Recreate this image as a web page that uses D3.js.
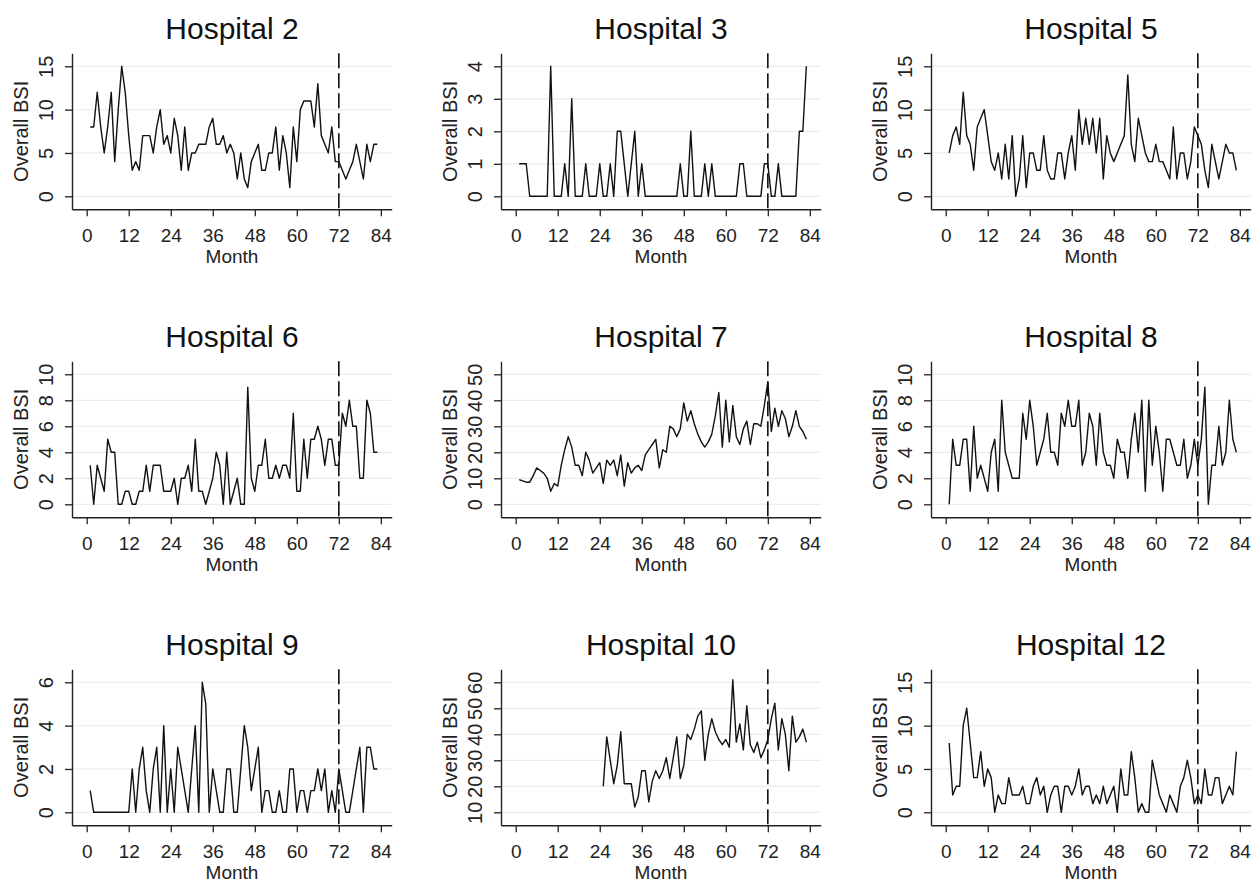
<!DOCTYPE html>
<html>
<head>
<meta charset="utf-8">
<script src="https://cdn.jsdelivr.net/npm/d3@7"></script>
<style>
  html, body { margin: 0; padding: 0; background: #fff; }
  svg { display: block; font-family: "Liberation Sans", Arial, sans-serif; }
</style>
</head>
<body>
<svg id="chart" width="1255" height="884"></svg>
<script>
// ---------------- data ----------------
const hospitalNames = ["Hospital 2", "Hospital 3", "Hospital 5", "Hospital 6", "Hospital 7", "Hospital 8", "Hospital 9", "Hospital 10", "Hospital 12"];
const monthTicks = [0, 12, 24, 36, 48, 60, 72, 84];
const interventionMonth = 72;

const hosp2 = [8,8,12,8,5,8,12,4,10,15, 12,7,3,4,3,7,7,7,5,8, 10,6,7,5,9,7,3,8,3,5, 5,6,6,6,8,9,6,6,7,5, 6,5,2,5,2,1,4,5,6,3, 3,5,5,8,3,7,5,1,8,4, 10,11,11,11,8,13,7,6,5,8, 4,4,3,2,3,4,6,4,2,6, 4,6,6];
const hosp3 = [1,1,1,0,0,0,0,0,0,4, 0,0,0,1,0,3,0,0,0,1, 0,0,0,1,0,0,1,0,2,2, 1,0,1,2,0,1,0,0,0,0, 0,0,0,0,0,0,1,0,0,2, 0,0,0,1,0,1,0,0,0,0, 0,0,0,1,1,0,0,0,0,0, 1,1,0,0,1,0,0,0,0,0, 2,2,4];
const hosp5 = [5,7,8,6,12,7,6,3,8,9, 10,7,4,3,5,2,6,2,7,0, 2,7,1,5,5,3,3,7,3,2, 2,5,5,2,5,7,3,10,6,9, 6,9,5,9,2,7,5,4,5,6, 7,14,6,4,9,7,5,4,4,6, 4,4,3,2,8,2,5,5,2,4, 8,7,6,3,1,6,4,2,4,6, 5,5,3];
const hosp6 = [3,0,3,2,1,5,4,4,0,0, 1,1,0,0,1,1,3,1,3,3, 3,1,1,1,2,0,2,2,3,1, 5,1,1,0,1,2,4,3,0,4, 0,1,2,0,0,9,2,1,3,3, 5,2,2,3,2,3,3,2,7,1, 1,5,2,5,5,6,5,3,5,5, 3,3,7,6,8,6,6,2,2,8, 7,4,4];
const hosp7 = [9.5,9,8.5,8.5,11,14,13,12,10,5, 8,7,15,21,26,22,15,15,11,20, 17,12,14,16,8,17,15,17,11,19, 7,16,12,14,15,13,19,21,23,25, 14,21,20,30,29,26,29,39,32,36, 31,27,24,22,24,27,34,43,22,40, 24,38,26,23,29,32,23,31,31,30, 38,47,28,37,30,36,33,26,30,36, 30,28,25];
const hosp8 = [0,5,3,3,5,5,1,6,2,3, 2,1,4,5,1,8,4,3,2,2, 2,7,5,8,6,3,4,5,7,4, 4,3,7,6,8,6,6,8,3,4, 7,6,3,7,4,3,3,2,5,4, 4,2,5,7,4,8,1,8,3,6, 4,1,5,5,4,3,3,5,2,3, 5,3,5,9,0,3,3,6,3,4, 8,5,4];
const hosp9 = [1,0,0,0,0,0,0,0,0,0, 0,0,2,0,2,3,1,0,2,3, 0,4,0,2,0,3,2,1,0,2, 4,0,6,5,0,2,1,0,0,2, 2,0,0,2,4,3,1,2,3,0, 1,1,0,0,1,0,0,2,2,0, 1,1,0,1,1,2,1,2,0,1, 0,2,1,0,0,1,2,3,0,3, 3,2,2];
const hosp10 = [20,39,30,21,28,41,21,21,21,12, 16,26,26,14,22,26,23,26,31,23, 31,39,23,28,40,38,42,47,49,30, 40,46,41,38,36,38,35,61,37,44, 34,51,36,33,37,31,34,38,46,52, 34,46,40,26,47,37,39,42,37];
const hosp12 = [8,2,3,3,10,12,8,4,4,7, 3,5,4,0,2,1,1,4,2,2, 2,3,1,1,3,4,2,3,0,2, 3,3,0,3,3,2,3,5,2,3, 3,1,2,1,3,1,2,3,0,5, 2,2,7,4,0,1,0,0,6,4, 2,1,0,2,1,0,3,4,6,4, 1,2,1,5,2,2,4,4,1,2, 3,2,7];

const seriesValues = [hosp2, hosp3, hosp5, hosp6, hosp7, hosp8, hosp9, hosp10, hosp12];
const firstMonths = [1, 1, 1, 1, 1, 1, 1, 25, 1];
const yTickSets = [
  [0, 5, 10, 15],
  [0, 1, 2, 3, 4],
  [0, 5, 10, 15],
  [0, 2, 4, 6, 8, 10],
  [0, 10, 20, 30, 40, 50],
  [0, 2, 4, 6, 8, 10],
  [0, 2, 4, 6],
  [10, 20, 30, 40, 50, 60],
  [0, 5, 10, 15]
];

// ---------------- layout ----------------
const svg = d3.select("#chart");
const colAxisX = [72, 501, 931];
const rowTopTick = [66.3, 374.3, 682.3];
const tickSpan = 130;      // px between lowest and highest y tick
const pad = 13;            // px the axes extend beyond the outer ticks
const axisWidth = 319.7;   // x axis length
const font = "'Liberation Sans', Arial, sans-serif";

seriesValues.forEach((vals, i) => {
  const col = i % 3, row = Math.floor(i / 3);
  const ax = colAxisX[col];
  const top = rowTopTick[row];
  const bottom = top + tickSpan;
  const ticks = yTickSets[i];
  const yMin = ticks[0], yMax = ticks[ticks.length - 1];
  const ext = (yMax - yMin) * pad / tickSpan;

  const x = d3.scaleLinear().domain([-4.2, 87.1]).range([ax, ax + axisWidth]);
  const y = d3.scaleLinear().domain([yMin - ext, yMax + ext]).range([bottom + pad, top - pad]);

  const g = svg.append("g");

  // gridlines
  g.append("g").selectAll("line").data(ticks).join("line")
    .attr("x1", ax).attr("x2", ax + axisWidth)
    .attr("y1", d => y(d)).attr("y2", d => y(d))
    .attr("stroke", "#ececec").attr("stroke-width", 1.2);

  // series line
  const data = vals.map((v, k) => ({ m: firstMonths[i] + k, v }));
  g.append("path").datum(data)
    .attr("fill", "none").attr("stroke", "#111").attr("stroke-width", 1.4)
    .attr("stroke-linejoin", "round")
    .attr("d", d3.line().x(d => x(d.m)).y(d => y(d.v)));

  // dashed intervention line
  g.append("line")
    .attr("x1", x(interventionMonth)).attr("x2", x(interventionMonth))
    .attr("y1", top - pad).attr("y2", bottom + pad)
    .attr("stroke", "#111").attr("stroke-width", 1.6)
    .attr("stroke-dasharray", "15,5");

  // x axis
  const xa = g.append("g").attr("transform", `translate(0,${bottom + pad})`)
    .call(d3.axisBottom(x).tickValues(monthTicks).tickFormat(d => String(d))
      .tickSize(7).tickSizeOuter(0).tickPadding(12));
  xa.select(".domain").attr("stroke", "#222").attr("stroke-width", 1.4);
  xa.selectAll(".tick line").attr("stroke", "#222").attr("stroke-width", 1.3);
  xa.selectAll("text").attr("font-family", font).attr("font-size", 19).attr("fill", "#222");

  // y axis
  const ya = g.append("g").attr("transform", `translate(${ax},0)`)
    .call(d3.axisLeft(y).tickValues(ticks).tickFormat(d => String(d))
      .tickSize(7).tickSizeOuter(0));
  ya.select(".domain").attr("stroke", "#222").attr("stroke-width", 1.4);
  ya.selectAll(".tick line").attr("stroke", "#222").attr("stroke-width", 1.3);
  ya.selectAll("text")
    .attr("x", null).attr("dy", null)
    .attr("transform", "translate(-19,0) rotate(-90)")
    .attr("text-anchor", "middle")
    .attr("font-family", font).attr("font-size", 20).attr("fill", "#222");

  // axis titles
  g.append("text")
    .attr("x", ax + 160).attr("y", bottom + pad + 54)
    .attr("text-anchor", "middle")
    .attr("font-family", font).attr("font-size", 19).attr("fill", "#222")
    .text("Month");
  g.append("text")
    .attr("transform", `translate(${ax - 44},${(top + bottom) / 2}) rotate(-90)`)
    .attr("text-anchor", "middle")
    .attr("font-family", font).attr("font-size", 20).attr("fill", "#222")
    .text("Overall BSI");

  // panel title
  g.append("text")
    .attr("x", ax + 160).attr("y", top - 27)
    .attr("text-anchor", "middle")
    .attr("font-family", font).attr("font-size", 30).attr("fill", "#111")
    .text(hospitalNames[i]);
});
</script>
</body>
</html>
